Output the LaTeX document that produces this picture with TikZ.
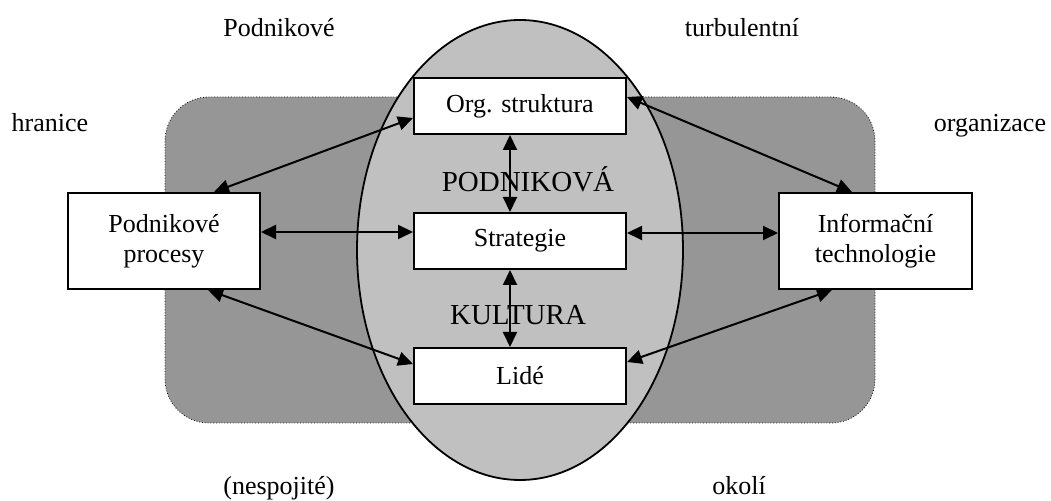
\documentclass[tikz,border=0pt]{standalone}
\usepackage{fontspec}
\setmainfont{Liberation Serif}
\usetikzlibrary{arrows.meta,shapes.geometric}
\definecolor{envgray}{HTML}{969696}
\definecolor{cultgray}{HTML}{C0C0C0}
\tikzset{
  box/.style={draw, line width=1pt, fill=white, align=center, inner sep=0pt,
    font=\fontsize{13}{15}\selectfont},
  lbl/.style={inner sep=0pt, anchor=base, font=\fontsize{13}{15}\selectfont},
  big/.style={inner sep=0pt, anchor=base, font=\fontsize{14.5}{17}\selectfont},
  link/.style={<->, line width=1pt}
}

\begin{document}
\begin{tikzpicture}[x=0.5pt, y=-0.5pt, >={Triangle[length=7.5pt,width=7pt]}]
  \useasboundingbox (0,0) rectangle (1051,501);
  \node[draw, densely dotted, fill=envgray, rounded corners=22pt,
    minimum width=355pt, minimum height=163pt] (env) at (520,260) {};
  \node[draw, ellipse, line width=0.9pt, fill=cultgray, inner sep=0pt,
    minimum width=163pt, minimum height=230pt] (cult) at (520,250) {};
  \node[lbl] (tl) at (279,37) {Podnikové};
  \node[lbl] (tr) at (742,37) {turbulentní};
  \node[lbl] (ml) at (50,132) {hranice};
  \node[lbl] (mr) at (990,132) {organizace};
  \node[lbl] (bl) at (279,495) {(nespojité)};
  \node[lbl] (br) at (739,495) {okolí};
  \node[big] (pk) at (528,192) {PODNIKOVÁ};
  \node[big] (ku) at (518,325) {KULTURA};
  \node[box, minimum width=106pt, minimum height=28pt] (org) at (520,106) {Org. struktura};
  \node[box, minimum width=106pt, minimum height=28pt] (str) at (520,241) {Strategie};
  \node[box, minimum width=106pt, minimum height=28pt] (lide) at (520,376) {Lidé};
  \node[box, minimum width=96pt, minimum height=48pt] (pp) at (164,241) {Podnikové\\procesy};
  \node[box, minimum width=96.5pt, minimum height=48pt] (it) at (875.5,241) {Informační\\technologie};
  \draw[link] ([xshift=-23.5pt]pp.north east) -- ([yshift=8.5pt]org.south west);
  \draw[link] ([yshift=-10pt]org.north east) -- ([xshift=37pt]it.north west);
  \draw[link] ([xshift=-26.5pt]pp.south east) -- ([yshift=-8.5pt]lide.north west);
  \draw[link] ([yshift=-7.5pt]lide.north east) -- ([xshift=27pt]it.south west);
  \draw[link] ([yshift=4.5pt]pp.east) -- ([yshift=4.5pt]str.west);
  \draw[link] ([yshift=4pt]str.east) -- ([yshift=4pt]it.west);
  \draw[link] ([xshift=-5pt]org.south) -- ([xshift=-5pt]str.north);
  \draw[link] ([xshift=-5pt]str.south) -- ([xshift=-5pt]lide.north);
\end{tikzpicture}
\end{document}
